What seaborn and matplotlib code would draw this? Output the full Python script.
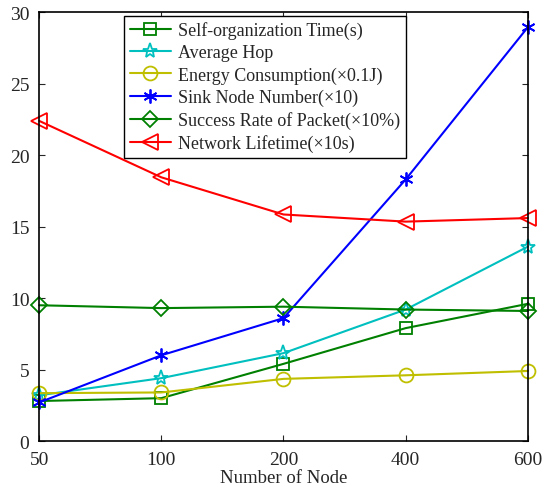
import numpy as np
import pandas as pd
import matplotlib
matplotlib.use("Agg")
import matplotlib.pyplot as plt
import seaborn as sns

# dati
nodes = ["50", "100", "200", "400", "600"]
self_org_time = [2.8, 3.0, 5.4, 7.9, 9.6]
average_hop = [3.2, 4.4, 6.15, 9.2, 13.6]
energy = [3.35, 3.4, 4.35, 4.6, 4.9]
sink_number = [2.7, 6.0, 8.6, 18.3, 28.95]
success_rate = [9.5, 9.3, 9.4, 9.2, 9.1]
lifetime = [22.4, 18.45, 15.85, 15.35, 15.6]

labels = ["Self-organization Time(s)", "Average Hop", "Energy Consumption(\u00d70.1J)",
          "Sink Node Number(\u00d710)", "Success Rate of Packet(\u00d710%)", "Network Lifetime(\u00d710s)"]
series = [self_org_time, average_hop, energy, sink_number, success_rate, lifetime]
colors = ["#008000", "#00bfbf", "#bfbf00", "#0000ff", "#008000", "#ff0000"]
markers = ["s", "*", "o", (6, 2, 0), "D", "<"]
msizes = [8, 11, 10, 10, 8, 11]

sns.set_style("ticks")
plt.rcParams["font.family"] = ["Liberation Serif", "DejaVu Serif"]
plt.rcParams["xtick.direction"] = "in"
plt.rcParams["ytick.direction"] = "in"

fig, ax = plt.subplots(figsize=(5.51, 4.89), dpi=100)
fig.subplots_adjust(left=0.071, right=0.958, top=0.973, bottom=0.096)

xpos = np.arange(len(nodes))
for vals, lab, c, m, ms in zip(series, labels, colors, markers, msizes):
    sns.lineplot(x=xpos, y=vals, ax=ax, color=c, marker=m, markersize=ms,
                 markerfacecolor="none", markeredgecolor=c, markeredgewidth=1.3,
                 linewidth=1.5, label=lab)
for ln in ax.lines:
    ln.set_clip_on(False)

ax.set_xlim(0, len(nodes) - 1)
ax.set_ylim(0, 30)
ax.set_xticks(xpos)
ax.set_xticklabels(nodes)
ax.set_yticks(range(0, 31, 5))
ax.tick_params(labelsize=14, top=True, right=True, length=4, width=0.8)
ax.tick_params(axis="x", pad=7)
ax.tick_params(axis="y", pad=7)
ax.set_xlabel("Number of Node", fontsize=13.5, labelpad=1)
for s in ax.spines.values():
    s.set_linewidth(1.2)
    s.set_color("black")

leg = ax.legend(loc="upper left", bbox_to_anchor=(0.174, 0.991), borderaxespad=0,
                fontsize=13, frameon=True, fancybox=False, edgecolor="black", framealpha=1,
                handlelength=2.3, borderpad=0.3, labelspacing=0.28, handletextpad=0.4)
leg.get_frame().set_linewidth(1.0)

fig.savefig("out.png", dpi=100)
